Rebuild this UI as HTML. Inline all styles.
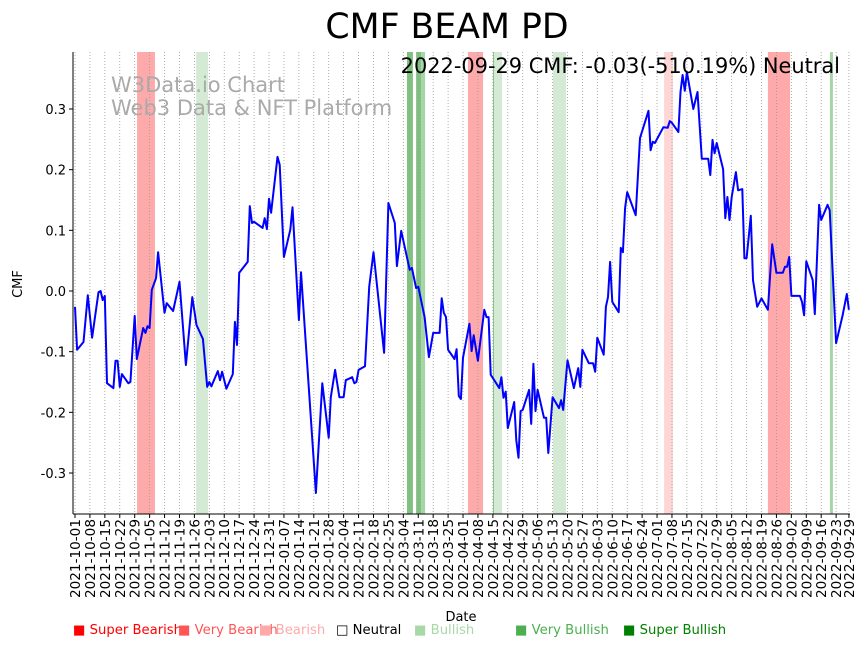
<!DOCTYPE html>
<html><head><meta charset="utf-8"><style>
body{margin:0;background:#fff}
svg{display:block;font-family:"DejaVu Sans","Liberation Sans",sans-serif}
</style></head><body>
<svg id="chart" width="867" height="646" viewBox="0 0 867 646" xmlns="http://www.w3.org/2000/svg">
<rect width="867" height="646" fill="#fff"/>
<g id="bands"></g>
<g id="grid"></g>
<text x="111" y="92" font-size="21" fill="#aaa">W3Data.io Chart</text>
<text x="111" y="115" font-size="21" fill="#aaa">Web3 Data &amp; NFT Platform</text>
<path id="line" fill="none" stroke="#0000ff" stroke-width="2" stroke-linejoin="round"/>
<g id="xaxis"></g>
<g id="yaxis"></g>
<line x1="73" y1="52" x2="73" y2="514" stroke="#000" stroke-width="1"/>
<line x1="73" y1="514" x2="850" y2="514" stroke="#000" stroke-width="1"/>
<text x="447" y="38" font-size="34.7" text-anchor="middle">CMF BEAM PD</text>
<text x="840" y="73" font-size="20.9" text-anchor="end">2022-09-29 CMF: -0.03(-510.19%) Neutral</text>
<text x="22" y="284" font-size="13" text-anchor="middle" transform="rotate(-90 22 284)">CMF</text>
<text x="461" y="621" font-size="13" text-anchor="middle">Date</text>
<g font-size="13.2">
<text x="73" y="634" fill="#ff0000">■ Super Bearish</text>
<text x="178" y="634" fill="#ff5555">■ Very Bearish</text>
<text x="259" y="634" fill="#ffaaaa">■ Bearish</text>
<text x="336" y="634" fill="#000">□ Neutral</text>
<text x="414" y="634" fill="#a8d8a8">■ Bullish</text>
<text x="515" y="634" fill="#4caf50">■ Very Bullish</text>
<text x="623" y="634" fill="#008000">■ Super Bullish</text>
</g>
</svg>
<script>
const days=[0,1,4,6,8,11,12,13,14,15,18,19,20,21,22,25,26,28,29,32,33,34,35,36,38,39,42,43,46,49,52,55,57,60,62,63,64,67,68,69,71,74,75,76,77,81,82,83,84,88,89,90,91,92,95,96,98,101,102,105,106,113,116,119,120,122,124,126,127,130,131,132,133,136,138,140,145,147,150,151,153,157,158,160,161,164,166,168,171,172,173,174,175,178,179,180,181,182,185,186,187,189,192,193,194,195,199,200,201,202,203,206,207,208,209,210,213,214,215,216,217,220,221,222,224,227,228,229,231,234,236,237,238,241,243,244,245,248,249,250,251,252,255,256,257,258,259,263,265,269,270,271,272,276,278,279,280,283,284,285,286,287,290,292,294,297,298,299,300,301,304,305,306,307,308,310,311,313,314,315,317,318,320,322,325,326,327,329,332,333,334,335,336,340,341,342,343,346,347,349,350,353,354,357,360,362,363];
const cmf=[-0.026,-0.097,-0.084,-0.007,-0.077,-0.002,0,-0.015,-0.008,-0.152,-0.160,-0.115,-0.115,-0.158,-0.137,-0.152,-0.150,-0.041,-0.112,-0.061,-0.069,-0.058,-0.061,0.002,0.021,0.064,-0.036,-0.020,-0.033,0.015,-0.122,-0.010,-0.056,-0.079,-0.158,-0.150,-0.157,-0.132,-0.147,-0.133,-0.161,-0.137,-0.051,-0.089,0.030,0.048,0.140,0.112,0.114,0.104,0.120,0.102,0.152,0.129,0.221,0.208,0.056,0.101,0.138,-0.048,0.031,-0.333,-0.152,-0.242,-0.175,-0.130,-0.175,-0.175,-0.147,-0.142,-0.152,-0.150,-0.130,-0.124,0.007,0.064,-0.102,0.145,0.112,0.041,0.099,0.035,0.038,0.005,0.007,-0.043,-0.109,-0.069,-0.069,-0.012,-0.036,-0.043,-0.097,-0.112,-0.096,-0.173,-0.178,-0.110,-0.054,-0.099,-0.073,-0.115,-0.031,-0.043,-0.043,-0.138,-0.160,-0.142,-0.176,-0.166,-0.226,-0.183,-0.246,-0.275,-0.198,-0.196,-0.163,-0.219,-0.120,-0.198,-0.163,-0.209,-0.209,-0.267,-0.175,-0.193,-0.180,-0.196,-0.114,-0.160,-0.127,-0.158,-0.097,-0.119,-0.119,-0.133,-0.077,-0.105,-0.026,-0.010,0.048,-0.018,-0.035,0.071,0.064,0.137,0.163,0.125,0.252,0.297,0.232,0.246,0.244,0.270,0.269,0.280,0.277,0.262,0.328,0.356,0.330,0.361,0.300,0.328,0.218,0.218,0.191,0.249,0.227,0.244,0.201,0.120,0.155,0.117,0.155,0.196,0.166,0.168,0.054,0.054,0.124,0.018,-0.026,-0.012,-0.031,0.023,0.077,0.030,0.030,0.040,0.040,0.056,-0.008,-0.008,-0.018,-0.040,0.049,0.018,-0.038,0.142,0.117,0.142,0.133,-0.086,-0.041,-0.005,-0.031];
const bandStart=[29.1,56.8,155.7,160,162.3,184.3,196.1,196.6,224.2,276.3,325,354.1];
const bandEnd=[37.5,62.4,158.5,162.3,164.2,191.4,196.6,200.3,230.3,280.5,335.4,355.5];
const bandColor=["#ffaaaa","#d4ead4","#80c080","#80c080","#a8d5a8","#ffaaaa","#80c080","#d4ead4","#d4ead4","#ffd6d6","#ffaaaa","#a8d5a8"];
const yTicks=[-0.3,-0.2,-0.1,0.0,0.1,0.2,0.3];
const xTickLabels=[];
const NS="http://www.w3.org/2000/svg";
const x=d=>75+d*2.132, y=v=>291-v*606.7;
const base=new Date(Date.UTC(2021,9,1));
const tickDays=[];
for(let d=0;d<=357;d+=7)tickDays.push(d);
tickDays.push(363);
tickDays.forEach(d=>{const t=new Date(base.getTime()+d*864e5);xTickLabels.push(t.toISOString().slice(0,10));});
function mk(tag,attrs,parent){const e=document.createElementNS(NS,tag);for(const k in attrs)e.setAttribute(k,attrs[k]);parent.appendChild(e);return e;}
const bands=document.getElementById('bands');
bandStart.forEach((s,i)=>{
 const r=mk('rect',{x:x(s),y:52,width:x(bandEnd[i])-x(s),height:462,fill:bandColor[i]},bands);
 
 
});
const grid=document.getElementById('grid'),xa=document.getElementById('xaxis');
tickDays.forEach((d,i)=>{
 const gx=x(d);
 const g=mk('line',{x1:gx,y1:52,x2:gx,y2:514,stroke:'#999','stroke-width':0.8,'stroke-dasharray':'1,2'},grid);
 
 
 const t=mk('line',{x1:gx,y1:514,x2:gx,y2:518,stroke:'#000'},xa);
 
 
 const l=mk('text',{x:0,y:0,'font-size':13.6,'text-anchor':'end',transform:`translate(${gx+5},519) rotate(-90)`},xa);
 l.textContent=xTickLabels[i];
 
 
});
const ya=document.getElementById('yaxis');
yTicks.forEach(v=>{
 const t=mk('line',{x1:69,y1:y(v),x2:73,y2:y(v),stroke:'#000'},ya);
 
 
 const l=mk('text',{x:66,y:y(v)+5,'font-size':13,'text-anchor':'end'},ya);
 l.textContent=v.toFixed(1);
 
 
});
document.getElementById('line').setAttribute('d',days.map((d,i)=>(i?'L':'M')+x(d).toFixed(1)+','+y(cmf[i]).toFixed(1)).join(''));
</script>
</body></html>
